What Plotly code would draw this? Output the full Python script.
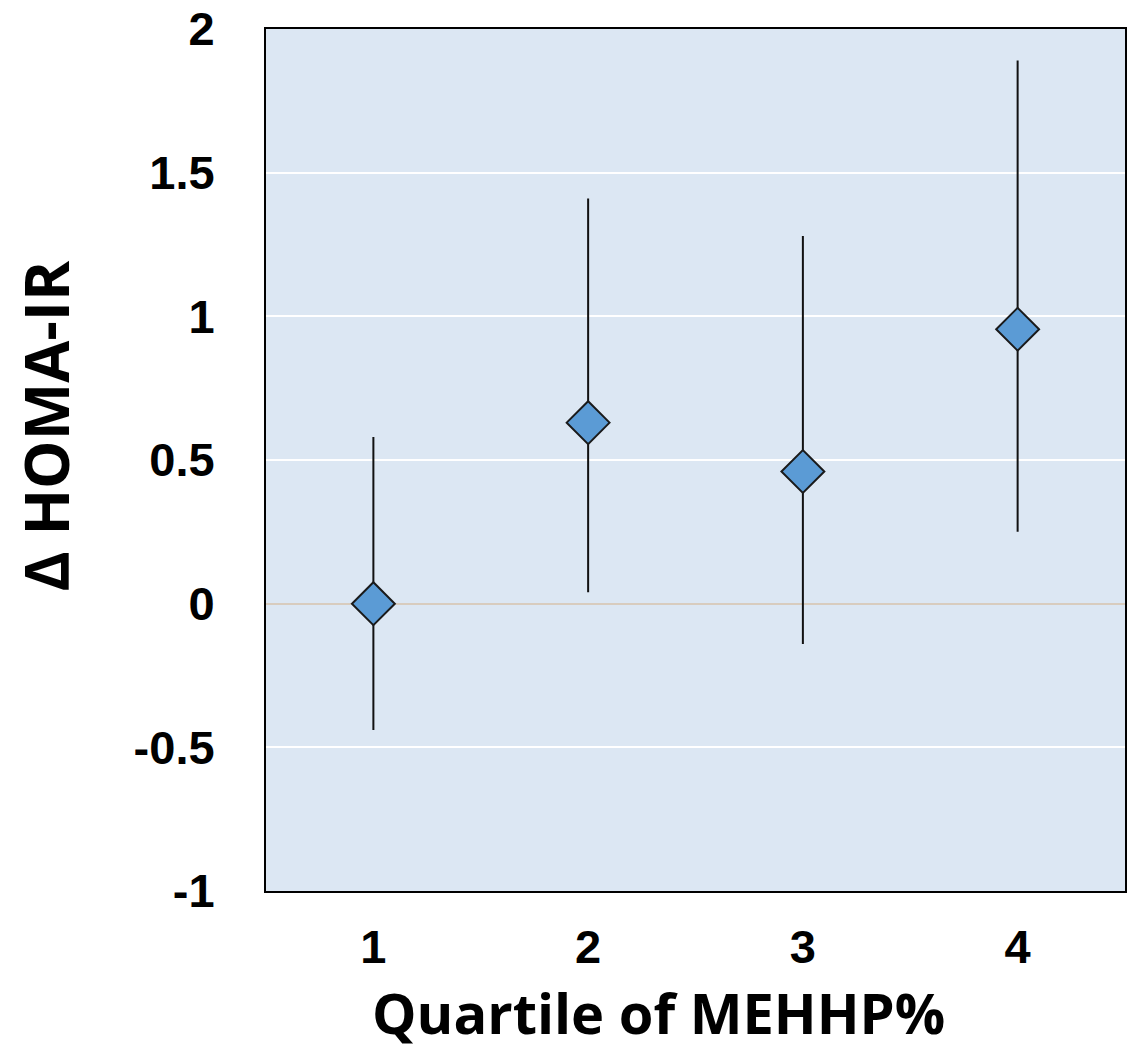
import plotly.graph_objects as go

quartiles = [1, 2, 3, 4]
estimate = [0.0, 0.63, 0.46, 0.955]
upper = [0.58, 1.41, 1.28, 1.89]
lower = [-0.44, 0.04, -0.14, 0.25]
y_ticks = [-1, -0.5, 0, 0.5, 1, 1.5, 2]
y_ticklabels = ["-1", "-0.5", "0", "0.5", "1", "1.5", "2"]
x_title = "Quartile of MEHHP%"
y_title = "Δ HOMA-IR"

err_plus = [u - e for u, e in zip(upper, estimate)]
err_minus = [e - l for e, l in zip(estimate, lower)]

fig = go.Figure()
fig.add_trace(go.Scatter(
    x=quartiles, y=estimate, mode="markers",
    marker=dict(symbol="diamond", size=33, color="#5B9BD5",
                line=dict(color="#1a1a1a", width=2)),
    error_y=dict(type="data", symmetric=False, array=err_plus, arrayminus=err_minus,
                 width=0, thickness=2, color="#111111"),
    showlegend=False,
))

fig.update_layout(
    width=1129, height=1055,
    margin=dict(l=266, r=2, t=29, b=164),
    paper_bgcolor="white", plot_bgcolor="#DCE7F3",
    font=dict(family="Liberation Sans, Arial, sans-serif", color="black"),
)
fig.update_xaxes(
    range=[0.5, 4.5], tickvals=quartiles, ticktext=[str(q) for q in quartiles],
    showgrid=False, zeroline=False, showline=True, linecolor="black", linewidth=2, mirror=True,
    ticks="", ticklabelstandoff=14,
    tickfont=dict(size=47, family="Liberation Sans, Arial", weight="bold"),
)
fig.update_yaxes(
    range=[-1, 2], tickvals=y_ticks, ticktext=y_ticklabels,
    showgrid=True, gridcolor="white", gridwidth=2,
    zeroline=True, zerolinecolor="#D8CCBE", zerolinewidth=2,
    showline=True, linecolor="black", linewidth=2, mirror=True,
    ticks="", ticklabelstandoff=40,
    tickfont=dict(size=47, family="Liberation Sans, Arial", weight="bold"),
)
fig.add_annotation(
    text=x_title, xref="paper", yref="paper", x=0.4565, y=-0.1404,
    xanchor="center", yanchor="middle", showarrow=False,
    font=dict(size=56, family="Open Sans", weight="bold", color="black"),
)
fig.add_annotation(
    text=y_title, xref="paper", yref="paper", x=-0.2578, y=0.5394,
    xanchor="center", yanchor="middle", textangle=-90, showarrow=False,
    font=dict(size=61, family="Open Sans", weight="bold", color="black"),
)
fig.write_html("out.html", config={"displayModeBar": False},
               post_script="document.body.style.margin='0';document.body.style.overflow='hidden';")
